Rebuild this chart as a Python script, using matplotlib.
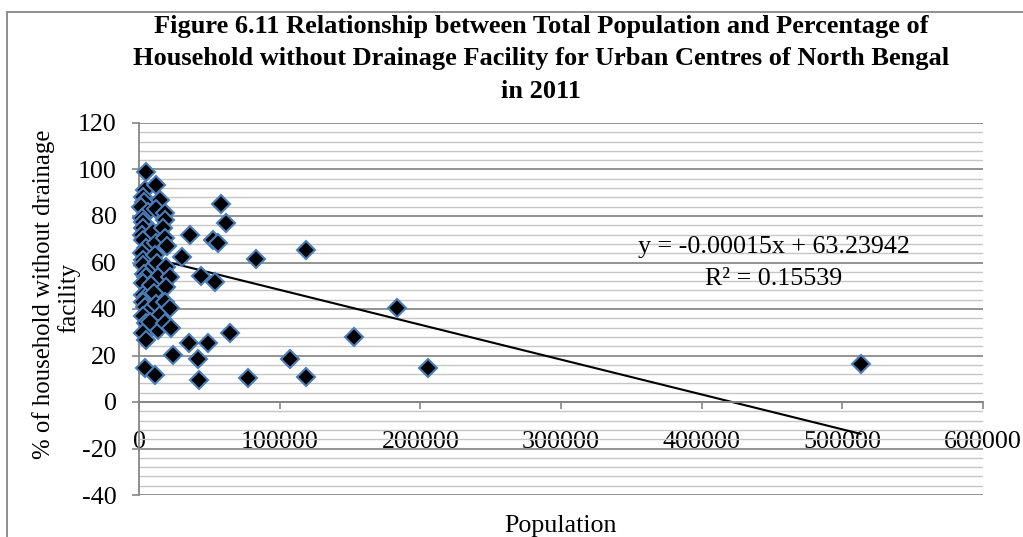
import numpy as np
import matplotlib
matplotlib.use("Agg")
import matplotlib.pyplot as plt
from matplotlib.patches import Rectangle

# Urban centres of North Bengal, 2011
population = [
    4700, 4000, 2500, 3500, 1600, 6400, 2000, 2800, 3000, 2200, 2800, 5200,
    2000, 3000, 2800, 7600, 3500, 5200, 2500, 6400, 3000, 5200, 2500, 4000,
    7600, 3000, 5200, 8700, 2800, 5200, 4000, 11200,
    11800, 14700, 12000, 10000, 12300, 11200, 13000, 13500, 8700, 11000,
    12000, 14700, 13500, 7800,
    18300, 18300, 17000, 18300, 20000, 19400, 21800, 19400, 18300, 21800,
    18300, 23000, 24500,
    30300, 36600, 35500, 42100, 42600, 44400, 49200, 52700, 56300, 53900,
    58600, 61500, 65000, 77500, 83500, 107100, 118400, 118400, 152500,
    183700, 205700, 513000,
]
pct_no_drainage = [
    99.0, 91.2, 88.0, 86.0, 84.0, 81.7, 79.0, 77.5, 75.0, 72.0, 69.7, 66.1,
    64.0, 61.0, 58.9, 56.8, 55.0, 53.9, 51.0, 48.2, 46.0, 45.3, 43.0, 41.0,
    39.6, 37.0, 33.8, 31.7, 29.5, 26.7, 14.8, 11.6,
    93.3, 86.9, 83.0, 73.3, 68.3, 63.2, 60.0, 53.9, 50.3, 47.0,
    42.0, 37.4, 31.0, 34.5,
    81.3, 78.3, 75.0, 70.4, 67.0, 58.2, 53.9, 49.6, 43.1, 40.3,
    33.8, 31.7, 20.2,
    62.2, 71.8, 25.5, 18.3, 9.5, 54.3, 25.3, 69.7, 68.3, 51.5,
    85.0, 76.9, 29.8, 10.5, 61.4, 18.3, 65.4, 10.9, 28.0,
    40.4, 14.6, 16.3,
]

# Linear trend line as reported on the chart
slope = -0.00015
intercept = 63.23942
r_squared = 0.15539

x_ticks = [0, 100000, 200000, 300000, 400000, 500000, 600000]
y_ticks = [-40, -20, 0, 20, 40, 60, 80, 100, 120]

title_lines = [
    "Figure 6.11 Relationship between Total Population and Percentage of",
    "Household without Drainage Facility for Urban Centres of North Bengal",
    "in 2011",
]

FS = 18.7

plt.rcParams["font.family"] = ["Liberation Serif", "DejaVu Serif"]

fig = plt.figure(figsize=(10.23, 5.37), dpi=100)
fig.patch.set_facecolor("white")

# Chart-area border
fig.add_artist(Rectangle((7 / 1023, -0.05), 1.1, 1 - 12 / 537 + 0.05,
                         transform=fig.transFigure, fill=False,
                         edgecolor="#868686", linewidth=1.3))

ax = fig.add_axes([139 / 1023, 1 - 495 / 537, (983 - 139) / 1023, (495 - 123) / 537])
ax.set_xlim(0, 600000)
ax.set_ylim(-40, 120)

ax.set_yticks(y_ticks)
ax.set_yticks(np.arange(-40, 121, 4), minor=True)
ax.set_xticks(x_ticks)
ax.set_xticklabels([str(v) for v in x_ticks])
ax.set_yticklabels([str(v) for v in y_ticks])

ax.grid(axis="y", which="minor", color="#c6c6c6", linewidth=1.0, zorder=0)
ax.grid(axis="y", which="major", color="#8a8a8a", linewidth=1.3, zorder=0)
ax.set_axisbelow(True)

for side in ("top", "right"):
    ax.spines[side].set_visible(False)
ax.spines["bottom"].set_position(("data", 0))
ax.spines["bottom"].set_color("#868686")
ax.spines["bottom"].set_linewidth(1.3)
ax.spines["left"].set_color("#868686")
ax.spines["left"].set_linewidth(1.3)

ax.tick_params(axis="both", which="major", direction="out", length=5,
               width=1.2, color="#868686", labelsize=FS, labelcolor="black")
ax.tick_params(axis="x", which="major", pad=16)
ax.tick_params(axis="y", which="major", pad=11)
ax.tick_params(axis="y", which="minor", length=0)

# Trend line across the data range
x_line = np.array([min(population), max(population)])
ax.plot(x_line, slope * x_line + intercept, color="black", linewidth=1.5, zorder=2)

ax.plot(population, pct_no_drainage, linestyle="none", marker="D",
        markersize=9.2, markerfacecolor="black", markeredgecolor="#4a7ebb",
        markeredgewidth=1.5, zorder=3, clip_on=False)

fig.text(774 / 1023, 1 - 247 / 537, f"y = {slope:.5f}x + {intercept:.5f}",
         ha="center", va="center", fontsize=FS)
fig.text(774 / 1023, 1 - 279 / 537, f"R² = {r_squared:.5f}",
         ha="center", va="center", fontsize=FS)

for i, line in enumerate(title_lines):
    fig.text(541 / 1023, 1 - (27 + 32 * i) / 537, line, ha="center", va="center",
             fontsize=19, fontweight="bold")

fig.text(44 / 1023, 1 - 294 / 537, "% of household without drainage",
         rotation=90, ha="center", va="center", fontsize=17.8)
fig.text(69 / 1023, 1 - 298 / 537, "facility",
         rotation=90, ha="center", va="center", fontsize=17.8)
fig.text(561 / 1023, 1 - 526 / 537, "Population", ha="center", va="center",
         fontsize=FS)

fig.savefig("out.png", dpi=100, facecolor="white")
